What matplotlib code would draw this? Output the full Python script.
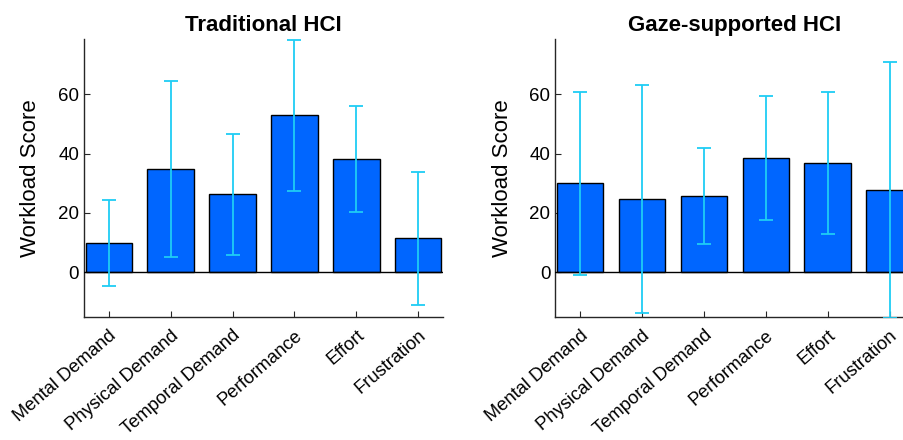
"""NASA-TLX workload comparison: traditional vs gaze-supported HCI."""

import matplotlib
matplotlib.use("Agg")
import matplotlib.pyplot as plt

plt.rcParams["font.family"] = ["Liberation Sans", "DejaVu Sans"]

categories = ["Mental Demand", "Physical Demand", "Temporal Demand",
              "Performance", "Effort", "Frustration"]

traditional_mean = [9.8, 34.9, 26.3, 52.9, 38.2, 11.4]
traditional_err = [14.6, 29.7, 20.4, 25.5, 17.8, 22.4]

gaze_mean = [29.9, 24.7, 25.8, 38.5, 36.8, 27.6]
gaze_err = [31.0, 38.4, 16.2, 20.9, 23.8, 43.1]

titles = ["Traditional HCI", "Gaze-supported HCI"]

BAR_COLOR = "#0066ff"
ERR_COLOR = "#1fcdf5"
AXIS_COLOR = "#262626"


def draw_panel(ax, means, errs, title):
    x = list(range(1, len(categories) + 1))
    ax.bar(x, means, width=0.75, color=BAR_COLOR, edgecolor="black",
           linewidth=1.0, zorder=2)
    ax.axhline(0, color="black", linewidth=1.0, zorder=3)
    ax.errorbar(x, means, yerr=errs, fmt="none", ecolor=ERR_COLOR,
                elinewidth=1.3, capsize=5, capthick=1.3, zorder=4)
    ax.set_xlim(0.6, 6.4)
    ax.set_ylim(-15.2, 78.5)
    ax.set_yticks([0, 20, 40, 60])
    ax.set_xticks(x)
    ax.set_xticklabels(categories, rotation=41, ha="right",
                       rotation_mode="anchor", fontsize=13.2)
    ax.tick_params(axis="both", direction="in", length=4, width=0.8,
                   colors=AXIS_COLOR, labelcolor="black")
    ax.tick_params(axis="y", labelsize=13.5)
    ax.tick_params(axis="x", pad=7)
    for side in ("top", "right"):
        ax.spines[side].set_visible(False)
    for side in ("left", "bottom"):
        ax.spines[side].set_color(AXIS_COLOR)
        ax.spines[side].set_linewidth(1.0)
    ax.set_ylabel("Workload Score", fontsize=16, labelpad=12)
    ax.set_title(title, fontsize=16, fontweight="bold", pad=6)


fig = plt.figure(figsize=(9.04, 4.40), dpi=100)
ax1 = fig.add_axes([84 / 904, 1 - 317.3 / 440, 359 / 904, 278 / 440])
ax2 = fig.add_axes([555.3 / 904, 1 - 317.3 / 440, 359 / 904, 278 / 440])

draw_panel(ax1, traditional_mean, traditional_err, titles[0])
draw_panel(ax2, gaze_mean, gaze_err, titles[1])

fig.savefig("out.png", dpi=100)
